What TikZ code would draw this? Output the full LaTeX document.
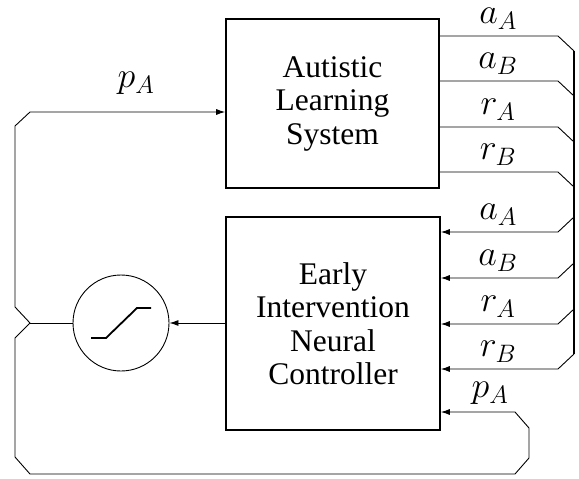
\RequirePackage{fix-cm}
\documentclass[tikz,border=0pt]{standalone}
\usepackage{fontspec}
\setmainfont{Liberation Serif}
\DeclareMathSizes{36}{36}{25.2}{18}
\usetikzlibrary{arrows.meta}
\begin{document}
\begin{tikzpicture}[x=1pt,y=-1pt,
  blk/.style={draw,line width=1.6pt,inner sep=0pt,align=center,font=\fontsize{31.5}{33.5}\selectfont},
  wire/.style={line width=0.9pt},
  arr/.style={wire,-{Latex[length=9pt,width=6pt]}},
  bus/.style={line width=1.6pt},
  lbl/.style={font=\fontsize{36}{40}\selectfont,inner sep=0pt,anchor=south}
]
\useasboundingbox (0,0) rectangle (579,479);

\node[blk,minimum width=213pt,minimum height=169pt] (als) at (332.5,103.5) {Autistic\\Learning\\System};
\node[blk,minimum width=214pt,minimum height=213pt] (ctl) at (333,323.5) {Early\\Intervention\\Neural\\Controller};
\node[draw,circle,minimum size=96pt,inner sep=0pt,line width=0.9pt] (sig) at (121,323) {};
\draw[line width=1.8pt] ([shift={(-30,15)}]sig.center) -- ([shift={(-15,15)}]sig.center)
  -- ([shift={(16,-15)}]sig.center) -- ([shift={(30,-15)}]sig.center);

% bus
\coordinate (busTop) at (574,51);
\coordinate (busBot) at (574,354);
\draw[bus] (busTop) -- (busBot);

% outputs of the learning system
\foreach \y/\t in {36/a_A,81/a_B,127/r_A,172/r_B} {
  \draw[wire] (als.east |- 0,\y) -- (558,\y) -- (574,\y+15);
  \node[lbl] at (498,\y-6.5) {$\t$};
}
% inputs of the controller
\foreach \y/\t in {232/a_A,278/a_B,324/r_A,369/r_B} {
  \draw[arr] (574,\y-15) -- (558,\y) -- (ctl.east |- 0,\y);
  \node[lbl] at (498,\y-6.5) {$\t$};
}

% controller to sigmoid
\draw[arr] (ctl.west |- sig.east) -- (sig.east);

% feedback p_A
\coordinate (jn) at (30,323);
\draw[wire] (sig.west) -- (jn);
\draw[arr] (jn) -- (15,307) -- (15,126) -- (30,112) -- (als.west |- 0,112);
\draw[arr] (jn) -- (15,338) -- (15,457) -- (30,474) -- (515,474) -- (529,458)
  -- (529,428) -- (515,412) -- (ctl.east |- 0,412);
\node[lbl] at (136,95) {$p_A$};
\node[lbl] at (490,405) {$p_A$};
\end{tikzpicture}
\end{document}
